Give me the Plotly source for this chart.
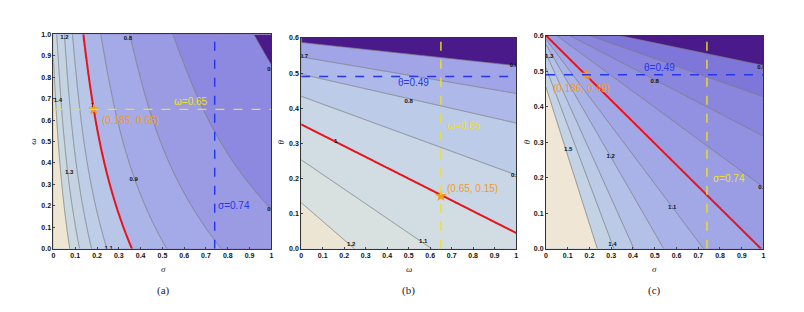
import numpy as np
import plotly.graph_objects as go

W, H = 804, 312

# ---------------- reference values / marked points ----------------
sigma_ref = 0.74
omega_ref = 0.65
theta_ref = 0.49
star_a = [0.185, 0.65]   # (sigma, omega)
star_b = [0.65, 0.15]    # (omega, theta)
star_c = [0.186, 0.49]   # (sigma, theta)
star_a_text = "(0.185, 0.65)"
star_b_text = "(0.65, 0.15)"
star_c_text = "(0.186, 0.49)"

# ---------------- panel (a): sigma position of each contour at sampled omega ----------------
a_levels = [1.4, 1.3, 1.2, 1.1, 1.0, 0.9, 0.8, 0.7, 0.6]
a_omega = [0.0, 0.2, 0.4, 0.6, 0.8, 1.0]
a_sigma = [
    [0.075, 0.0486, 0.0296, 0.0153, 0.004, -0.005],
    [0.12, 0.0854, 0.0605, 0.0416, 0.0268, 0.015],
    [0.175, 0.1338, 0.1041, 0.0817, 0.0641, 0.05],
    [0.245, 0.193, 0.155, 0.127, 0.105, 0.087],
    [0.36, 0.287, 0.234, 0.193, 0.162, 0.137],
    [0.52, 0.420, 0.348, 0.294, 0.251, 0.217],
    [0.77, 0.632, 0.532, 0.456, 0.397, 0.35],
    [1.196, 0.982, 0.829, 0.712, 0.621, 0.548],
    [1.91, 1.584, 1.349, 1.171, 1.032, 0.92],
]
a_colors = ['#4B1A8A', '#8D89E0', '#9B9BE4', '#A4A9E7', '#ACB5E8',
            '#B8C6E8', '#BECEE6', '#C4D3E4', '#CAD8E2', '#EEE5D3']

# ---------------- panel (b): straight contours, two read points each (omega, theta) ----------------
b_levels = [1.2, 1.1, 1.0, 0.9, 0.8, 0.7, 0.6]
b_w1 = [0.0, 0.0, 0.0, 0.0, 0.0, 0.0, 0.0]
b_t1 = [0.131, 0.253, 0.354, 0.434, 0.497, 0.546, 0.587]
b_w2 = [0.247, 0.607, 1.0, 1.0, 1.0, 1.0, 1.0]
b_t2 = [0.0, 0.0, 0.045, 0.21, 0.358, 0.442, 0.521]
b_colors = ['#4B1A8A', '#A1A5E7', '#AFB9E9', '#BCCBE8', '#C8D6E6',
            '#D1DCE3', '#D9E0E0', '#EDE5D4']

# ---------------- panel (c): straight contours, two read points each (sigma, theta) ----------------
c_levels = [1.5, 1.4, 1.3, 1.2, 1.1, 1.0, 0.9, 0.8, 0.7, 0.6]
c_s1 = [0.236, 0.312, 0.404, 0.541, 0.724, 0.988, 0.05, 0.11, 0.2, 0.34]
c_t1 = [0.0, 0.0, 0.0, 0.0, 0.0, 0.0, 0.6, 0.6, 0.6, 0.6]
c_s2 = [0.0, 0.0, 0.0, 0.0, 0.0, 0.0, 1.0, 1.0, 1.0, 1.0]
c_t2 = [0.455, 0.51, 0.55, 0.575, 0.59, 0.6, 0.173, 0.3165, 0.4275, 0.516]
c_colors = ['#4B1A8A', '#7E76D8', '#8A85DD', '#9291E1', '#9A9CE4', '#A2A7E6',
            '#AAB3E8', '#B3C0E8', '#BBCAE7', '#C3D3E5', '#EFE6D5']

# ---------------- tick labels ----------------
x_tickvals = [0, 0.1, 0.2, 0.3, 0.4, 0.5, 0.6, 0.7, 0.8, 0.9, 1.0]
x_ticktext = ['0', '0.1', '0.2', '0.3', '0.4', '0.5', '0.6', '0.7', '0.8', '0.9', '1']
ya_tickvals = [0, 0.1, 0.2, 0.3, 0.4, 0.5, 0.6, 0.7, 0.8, 0.9, 1.0]
ya_ticktext = ['0.0', '0.1', '0.2', '0.3', '0.4', '0.5', '0.6', '0.7', '0.8', '0.9', '1.0']
yb_tickvals = [0, 0.1, 0.2, 0.3, 0.4, 0.5, 0.6]
yb_ticktext = ['0.0', '0.1', '0.2', '0.3', '0.4', '0.5', '0.6']

# contour labels as drawn in the figure: (text, x, y)
a_labels = [("1.2", 0.05, 0.985), ("0.8", 0.342, 0.982), ("1.4", 0.02, 0.69), ("1", 0.18, 0.67),
            ("1.3", 0.072, 0.354), ("0.9", 0.368, 0.324), ("1.1", 0.254, 0.003),
            ("0.6", 1.0, 0.837), ("0.7", 1.0, 0.184)]
b_labels = [("0.7", 0.012, 0.546), ("0.6", 0.99, 0.521), ("0.8", 0.5, 0.419), ("1", 0.16, 0.305),
            ("0.9", 0.995, 0.207), ("1.1", 0.568, 0.02), ("1.2", 0.233, 0.013)]
c_labels = [("1.3", 0.015, 0.54), ("0.8", 0.5, 0.47), ("0.6", 0.99, 0.51), ("1.5", 0.102, 0.28),
            ("1.2", 0.297, 0.26), ("0.9", 0.995, 0.173), ("1.1", 0.58, 0.116), ("1.4", 0.305, 0.013)]


# ---------------- build z tables from the read contour geometry ----------------
def interp_ext(x, pos, levels):
    """Interpolate level values along positions, continuing the outer spacing beyond the ends."""
    pos = list(pos)
    lv = list(levels)
    p = [pos[0] - (pos[1] - pos[0])] + pos + [pos[-1] + (pos[-1] - pos[-2])]
    l = [lv[0] + (lv[0] - lv[1])] + lv + [lv[-1] - (lv[-2] - lv[-1])]
    p2 = [p[0] - 10.0] + p + [p[-1] + 10.0]
    l2 = [l[0] + 0.0001] + l + [l[-1] - 0.0001]
    return np.interp(x, p2, l2)


def field_a():
    xs = np.linspace(0, 1, 301)
    ys = np.linspace(0, 1, 301)
    fits = [np.polyfit(a_omega, row, 3) for row in a_sigma]
    Z = np.empty((len(ys), len(xs)))
    for i, w in enumerate(ys):
        pos = [np.polyval(f, w) for f in fits]
        Z[i] = interp_ext(xs, pos, a_levels)
    return xs, ys, Z


def line_at(p1a, p1b, p2a, p2b, t):
    return p1a + (p2a - p1a) * (t - p1b) / (p2b - p1b)


def field_b():
    xs = np.linspace(0, 1, 301)      # omega
    ys = np.linspace(0, 0.6, 241)    # theta
    Z = np.empty((len(ys), len(xs)))
    for j, w in enumerate(xs):
        pos = [line_at(b_t1[k], b_w1[k], b_t2[k], b_w2[k], w) for k in range(len(b_levels))]
        Z[:, j] = interp_ext(ys, pos, b_levels)
    return xs, ys, Z


def field_c():
    xs = np.linspace(0, 1, 301)      # sigma
    ys = np.linspace(0, 0.6, 241)    # theta
    Z = np.empty((len(ys), len(xs)))
    for i, t in enumerate(ys):
        pos = [line_at(c_s1[k], c_t1[k], c_s2[k], c_t2[k], t) for k in range(len(c_levels))]
        Z[i] = interp_ext(xs, pos, c_levels)
    return xs, ys, Z


def cscale(colors):
    n = len(colors) - 1
    return [[k / n, c] for k, c in enumerate(colors)]


fig = go.Figure()

panels = [
    ('x', 'y', field_a(), min(a_levels), max(a_levels), a_colors),
    ('x2', 'y2', field_b(), min(b_levels), max(b_levels), b_colors),
    ('x3', 'y3', field_c(), min(c_levels), max(c_levels), c_colors),
]
for xa, ya, (xs, ys, Z), lo, hi, cols in panels:
    fig.add_trace(go.Contour(
        x=xs, y=ys, z=Z, xaxis=xa, yaxis=ya,
        autocontour=False,
        contours=dict(start=lo, end=hi, size=0.1, coloring='fill', showlines=True),
        line=dict(color='#7d7d7d', width=0.8, smoothing=1),
        colorscale=cscale(cols), showscale=False, hoverinfo='skip'))
    fig.add_trace(go.Contour(
        x=xs, y=ys, z=Z, xaxis=xa, yaxis=ya,
        autocontour=False,
        contours=dict(start=1.0, end=1.0, size=0.1, coloring='none'),
        line=dict(color='#E8141C', width=2, smoothing=1),
        showscale=False, hoverinfo='skip'))

# contour labels
for (xa, ya), labs in zip([('x', 'y'), ('x2', 'y2'), ('x3', 'y3')], [a_labels, b_labels, c_labels]):
    fig.add_trace(go.Scatter(
        x=[l[1] for l in labs], y=[l[2] for l in labs], text=[l[0] for l in labs],
        mode='text', xaxis=xa, yaxis=ya, cliponaxis=True, hoverinfo='skip',
        textfont=dict(size=6, color='#111', family='Liberation Sans', weight='bold'),
        showlegend=False))

# stars
STAR = '#F39A1E'
for (xa, ya), pt in zip([('x', 'y'), ('x2', 'y2'), ('x3', 'y3')], [star_a, star_b, star_c]):
    fig.add_trace(go.Scatter(x=[pt[0]], y=[pt[1]], mode='markers', xaxis=xa, yaxis=ya,
                             marker=dict(symbol='star', size=9, color=STAR, line=dict(width=0)),
                             hoverinfo='skip', showlegend=False))

YEL = '#EEE024'
BLU = '#2437EE'
shapes = [
    dict(type='line', xref='x', yref='y', x0=0, x1=1, y0=omega_ref, y1=omega_ref,
         line=dict(color=YEL, width=1.4, dash='dash')),
    dict(type='line', xref='x', yref='y', x0=sigma_ref, x1=sigma_ref, y0=0, y1=1,
         line=dict(color=BLU, width=1.5, dash='dash')),
    dict(type='line', xref='x2', yref='y2', x0=0, x1=1, y0=theta_ref, y1=theta_ref,
         line=dict(color=BLU, width=1.5, dash='dash')),
    dict(type='line', xref='x2', yref='y2', x0=omega_ref, x1=omega_ref, y0=0, y1=0.6,
         line=dict(color=YEL, width=1.4, dash='dash')),
    dict(type='line', xref='x3', yref='y3', x0=0, x1=1, y0=theta_ref, y1=theta_ref,
         line=dict(color=BLU, width=1.5, dash='dash')),
    dict(type='line', xref='x3', yref='y3', x0=sigma_ref, x1=sigma_ref, y0=0, y1=0.6,
         line=dict(color=YEL, width=1.4, dash='dash')),
]

TXT = dict(family='Liberation Sans', size=10)
ann = []
def data_text(xa, ya, x, y, text, color):
    ann.append(dict(xref=xa, yref=ya, x=x, y=y, text=text, showarrow=False,
                    xanchor='left', yanchor='middle', font=dict(color=color, **TXT)))

data_text('x', 'y', 0.545, 0.685, 'ω=0.65', YEL)
data_text('x', 'y', 0.748, 0.2, 'σ=0.74', BLU)
data_text('x', 'y', 0.213, 0.597, star_a_text, STAR)
data_text('x2', 'y2', 0.44, 0.472, 'θ=0.49', BLU)
data_text('x2', 'y2', 0.668, 0.352, 'ω=0.65', YEL)
data_text('x2', 'y2', 0.668, 0.171, star_b_text, STAR)
data_text('x3', 'y3', 0.44, 0.51, 'θ=0.49', BLU)
data_text('x3', 'y3', 0.758, 0.198, 'σ=0.74', YEL)
data_text('x3', 'y3', 0.022, 0.45, star_c_text, STAR)

def paper_text(px, py, text, size, family, angle=0, italic=False):
    ann.append(dict(xref='paper', yref='paper', x=px / W, y=1 - py / H, text=text,
                    showarrow=False, xanchor='center', yanchor='middle', textangle=angle,
                    font=dict(size=size, family=family, color='#222',
                              style='italic' if italic else 'normal')))

paper_text(162, 271, 'σ', 9, 'Liberation Serif', italic=True)
paper_text(31, 141, 'ω', 9, 'Liberation Serif', angle=-90, italic=True)
paper_text(409, 271, 'ω', 9, 'Liberation Serif', italic=True)
paper_text(280, 141, 'θ', 9, 'Liberation Serif', angle=-90, italic=True)
paper_text(656, 271, 'σ', 9, 'Liberation Serif', italic=True)
paper_text(527, 141, 'θ', 9, 'Liberation Serif', angle=-90, italic=True)
paper_text(162, 293, '(a)', 11, 'Liberation Serif')
paper_text(409, 293, '(b)', 11, 'Liberation Serif')
paper_text(656, 293, '(c)', 11, 'Liberation Serif')

TICKF = dict(size=7, family='Liberation Sans', color='#111', weight='bold')
def xaxis(x0, x1, anchor):
    return dict(domain=[x0 / W, x1 / W], range=[0, 1], anchor=anchor,
                tickvals=x_tickvals, ticktext=x_ticktext, ticks='inside', ticklen=2,
                tickwidth=0.8, tickcolor='#444', showline=True, mirror=True,
                linecolor='#333', linewidth=1, showgrid=False, zeroline=False,
                tickfont=TICKF, fixedrange=True)

def yaxis(y0, y1, anchor, top, tv, tt):
    return dict(domain=[1 - y1 / H, 1 - y0 / H], range=[0, top], anchor=anchor,
                tickvals=tv, ticktext=tt, ticks='inside', ticklen=2,
                tickwidth=0.8, tickcolor='#444', showline=True, mirror=True,
                linecolor='#333', linewidth=1, showgrid=False, zeroline=False,
                tickfont=TICKF, fixedrange=True)

fig.update_layout(
    width=W, height=H, autosize=False,
    margin=dict(l=0, r=0, t=0, b=0),
    paper_bgcolor='white', plot_bgcolor='white',
    showlegend=False,
    xaxis=xaxis(51.7, 270.7, 'y'),
    yaxis=yaxis(31.0, 250.3, 'x', 1.0, ya_tickvals, ya_ticktext),
    xaxis2=xaxis(300.7, 516.7, 'y2'),
    yaxis2=yaxis(34.7, 250.3, 'x2', 0.6, yb_tickvals, yb_ticktext),
    xaxis3=xaxis(546.7, 765.3, 'y3'),
    yaxis3=yaxis(32.4, 250.3, 'x3', 0.6, yb_tickvals, yb_ticktext),
    shapes=shapes, annotations=ann,
)

fig.write_html("out.html", config={'displayModeBar': False},
               post_script="document.body.style.margin='0';document.body.style.overflow='hidden';")
